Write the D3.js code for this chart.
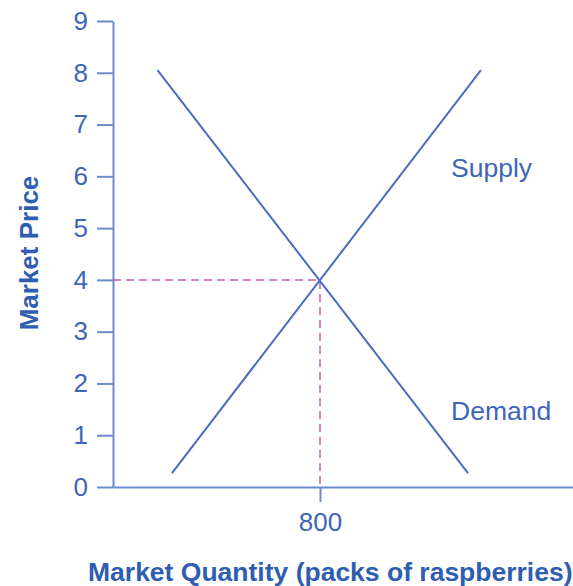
<!DOCTYPE html>
<html>
<head>
<meta charset="utf-8">
<script src="https://cdn.jsdelivr.net/npm/d3@7"></script>
<style>
  html, body { margin: 0; padding: 0; background: #ffffff; }
  svg { display: block; }
</style>
</head>
<body>
<svg id="chart" width="573" height="586"></svg>
<script>
// ---- data ----
const priceTicks = [0, 1, 2, 3, 4, 5, 6, 7, 8, 9];
const quantityTicks = [800];
const supplyQty = [228, 1422];
const supplyPrice = [0.27, 8.05];
const demandQty = [172, 1372];
const demandPrice = [8.05, 0.27];
const equilibriumQty = 800;
const equilibriumPrice = 4;
const seriesLabels = ["Supply", "Demand"];
const xTitle = "Market Quantity (packs of raspberries)";
const yTitle = "Market Price";

// ---- styling ----
const lineColor = "#4a6cc2";
const axisColor = "#6a8bd0";
const textColor = "#3e66b8";
const titleColor = "#2f5db0";
const dashColor = "#c75ba8";
const font = "'Liberation Sans', Arial, Helvetica, sans-serif";

const svg = d3.select("#chart");
const x0 = 113, y0 = 487;
const x = d3.scaleLinear().domain([0, 1780]).range([x0, x0 + 1780 * 207 / 800]);
const y = d3.scaleLinear().domain([0, 9]).range([y0, 21]);

// y axis
const yAxis = svg.append("g").attr("transform", `translate(${x0},0)`)
  .call(d3.axisLeft(y).tickValues(priceTicks).tickSize(16).tickSizeOuter(0).tickPadding(9));
yAxis.select(".domain").attr("stroke", axisColor).attr("stroke-width", 2);
yAxis.selectAll(".tick line").attr("stroke", axisColor).attr("stroke-width", 2);
yAxis.selectAll(".tick text").attr("fill", textColor).attr("font-size", 26)
  .attr("font-family", font);

// x axis
const xAxis = svg.append("g").attr("transform", `translate(0,${y0})`)
  .call(d3.axisBottom(x).tickValues(quantityTicks).tickSize(15).tickSizeOuter(0).tickPadding(11));
xAxis.select(".domain").attr("stroke", axisColor).attr("stroke-width", 2);
xAxis.selectAll(".tick line").attr("stroke", axisColor).attr("stroke-width", 2);
xAxis.selectAll(".tick text").attr("fill", textColor).attr("font-size", 26)
  .attr("font-family", font);

// dashed equilibrium guides
svg.append("path")
  .attr("d", `M${x(0)},${y(equilibriumPrice)}H${x(equilibriumQty)}V${y(0)}`)
  .attr("fill", "none").attr("stroke", dashColor).attr("stroke-width", 1.5)
  .attr("stroke-dasharray", "8,5");

// supply & demand lines
const line = d3.line().x(d => x(d[0])).y(d => y(d[1]));
const supply = supplyQty.map((q, i) => [q, supplyPrice[i]]);
const demand = demandQty.map((q, i) => [q, demandPrice[i]]);
[supply, demand].forEach(s => {
  svg.append("path").attr("d", line(s)).attr("fill", "none")
    .attr("stroke", lineColor).attr("stroke-width", 2);
});

// series labels
svg.append("text").attr("x", 451).attr("y", 177).text(seriesLabels[0])
  .attr("fill", textColor).attr("font-size", 26.5).attr("font-family", font);
svg.append("text").attr("x", 451).attr("y", 420).text(seriesLabels[1])
  .attr("fill", textColor).attr("font-size", 26.5).attr("font-family", font);

// axis titles
svg.append("text").attr("x", 88).attr("y", 581).text(xTitle)
  .attr("fill", titleColor).attr("font-size", 26.5).attr("font-weight", "bold")
  .attr("font-family", font);
svg.append("text").attr("transform", "translate(38,253) rotate(-90)")
  .attr("text-anchor", "middle").text(yTitle)
  .attr("fill", titleColor).attr("font-size", 26).attr("font-weight", "bold")
  .attr("font-family", font);
</script>
</body>
</html>
